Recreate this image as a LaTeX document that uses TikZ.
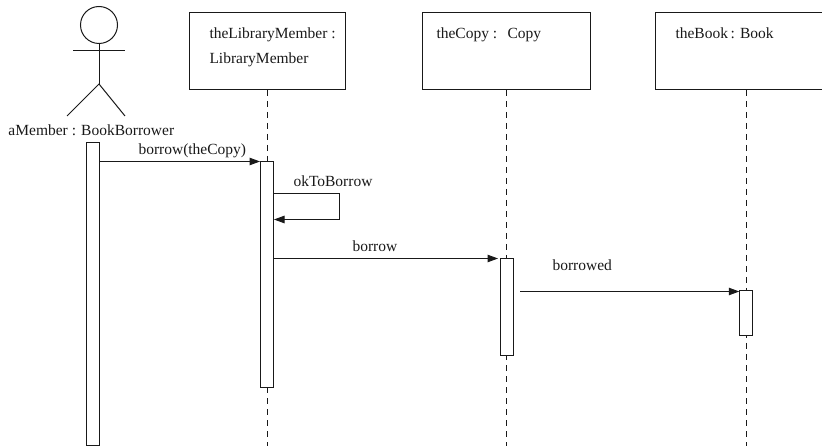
\documentclass[tikz,border=0pt]{standalone}
\usepackage{fontspec}
\setmainfont{Liberation Serif}
\usetikzlibrary{arrows.meta}
\tikzset{
  x=1pt,y=-1pt,
  every path/.style={line width=1pt,color=black!90},
  lbl/.style={inner sep=0pt,anchor=base west,text=black!90,font=\fontsize{15.5}{18}\selectfont},
  objbox/.style={draw,inner sep=0pt},
  act/.style={draw,fill=white,inner sep=0pt},
  msg/.style={-{Triangle[length=10.5pt,width=7.5pt]}},
  life/.style={dash pattern=on 6pt off 5pt}
}
\begin{document}
\begin{tikzpicture}
\useasboundingbox (0,0) rectangle (822,446);
% lifelines
\coordinate (l2a) at (267,90); \coordinate (l2b) at (267,446);
\coordinate (l3a) at (506.5,90); \coordinate (l3b) at (506.5,446);
\coordinate (l4a) at (746,90); \coordinate (l4b) at (746,446);
\draw[life] (l2a) -- (l2b);
\draw[life] (l3a) -- (l3b);
\draw[life] (l4a) -- (l4b);
% boxes
\node[objbox,minimum width=155.5pt,minimum height=77.5pt] (b2) at (267.5,51.2) {};
\node[objbox,minimum width=168.5pt,minimum height=77.5pt] (b3) at (506.7,51.2) {};
\node[objbox,minimum width=168.5pt,minimum height=77.5pt] (b4) at (739.8,51.2) {};
\node[lbl] (t2a) at (209,39) {theLibraryMember :};
\node[lbl] (t2b) at (209,64) {LibraryMember};
\node[lbl] (t3) at (436,39) {theCopy :\ \ \,Copy};
\node[lbl] (t4) at (675,39) {theBook\,:\,\,Book};
% actor
\node[draw,circle,minimum size=37pt,inner sep=0pt] (head) at (99,25) {};
\coordinate (armL) at (73,51); \coordinate (armR) at (125,51);
\coordinate (hip) at (99,84); \coordinate (legL) at (67,116); \coordinate (legR) at (125,116);
\draw (armL) -- (armR);
\draw (head.south) -- (hip);
\draw (legL) -- (hip) -- (legR);
\node[lbl] (actor) at (8,136) {aMember : BookBorrower};
% activations
\node[act,minimum width=13pt,minimum height=303.5pt] (a1) at (93,293.8) {};
\node[act,minimum width=13pt,minimum height=226.5pt] (a2) at (267,274.5) {};
\node[act,minimum width=13pt,minimum height=97pt] (a3) at (506.5,307) {};
\node[act,minimum width=12.5pt,minimum height=45pt] (a4) at (746,313.5) {};
% messages
\coordinate (m1s) at (a1.east |- 0,161.5); \coordinate (m1e) at (a2.west |- 0,161.5);
\draw[msg] (m1s) -- (m1e);
\node[lbl] (m1l) at (138,155) {borrow(theCopy)};
\coordinate (m2s) at (a2.east |- 0,194); \coordinate (m2e) at (a2.east |- 0,219.5);
\draw[msg] (m2s) -- (339,194) -- (339,219.5) -- (m2e);
\node[lbl] (m2l) at (293,187) {okToBorrow};
\coordinate (m3s) at (a2.east |- 0,258.5); \coordinate (m3e) at (498,258.5);
\draw[msg] (m3s) -- (m3e);
\node[lbl] (m3l) at (352,252) {borrow};
\coordinate (m4s) at (520,291.5); \coordinate (m4e) at (a4.west |- 0,291.5);
\draw[msg] (m4s) -- (m4e);
\node[lbl] (m4l) at (552,271) {borrowed};
\end{tikzpicture}
\end{document}
